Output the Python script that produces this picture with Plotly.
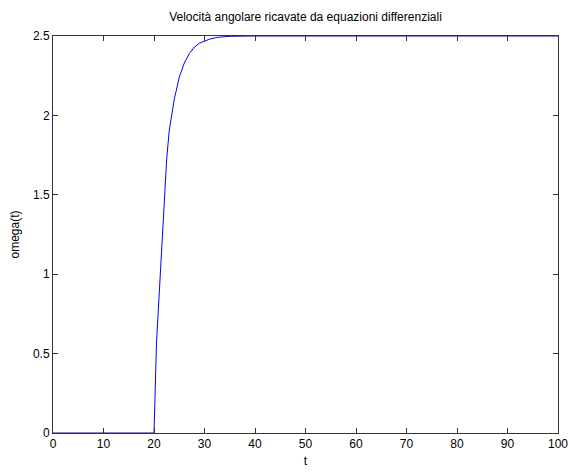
import plotly.graph_objects as go

t_values = [0, 20, 20.5, 21, 21.5, 22, 22.5, 23, 24, 25, 26, 27, 28, 29, 30, 31, 32, 33, 35, 40, 100]
omega_values = [0, 0, 0.57, 0.88, 1.15, 1.45, 1.72, 1.90, 2.10, 2.24, 2.33, 2.39, 2.43, 2.455, 2.47, 2.48, 2.488, 2.493, 2.498, 2.5, 2.5]

title_text = "Velocità angolare ricavate da equazioni differenziali"
x_label = "t"
y_label = "omega(t)"

fig = go.Figure()
fig.add_trace(go.Scatter(x=t_values, y=omega_values, mode="lines",
                         line=dict(color="#0000ff", width=1), showlegend=False))

font_family = "Liberation Sans, Arial, sans-serif"
axis_common = dict(showgrid=False, zeroline=False, showline=True, linecolor="#333333", linewidth=1,
                   mirror="ticks", ticks="inside", ticklen=5, tickcolor="#333333", automargin=False,
                   tickfont=dict(family=font_family, size=12, color="#000000"))

fig.update_layout(
    width=570, height=472,
    margin=dict(l=53, r=12, t=36, b=39),
    paper_bgcolor="white", plot_bgcolor="white",
    title=dict(text=title_text, x=305.5/570, xanchor="center", y=1 - 17/472, yanchor="middle",
               font=dict(family=font_family, size=12, color="#000000")),
    xaxis=dict(range=[0, 100], dtick=10, tick0=0,
               title=dict(text=x_label, font=dict(family=font_family, size=12, color="#000000"), standoff=6),
               **axis_common),
    yaxis=dict(range=[0, 2.5], dtick=0.5, tick0=0,
               title=dict(text=y_label, font=dict(family=font_family, size=12, color="#000000"), standoff=10),
               **axis_common),
)

fig.write_html("out.html")
